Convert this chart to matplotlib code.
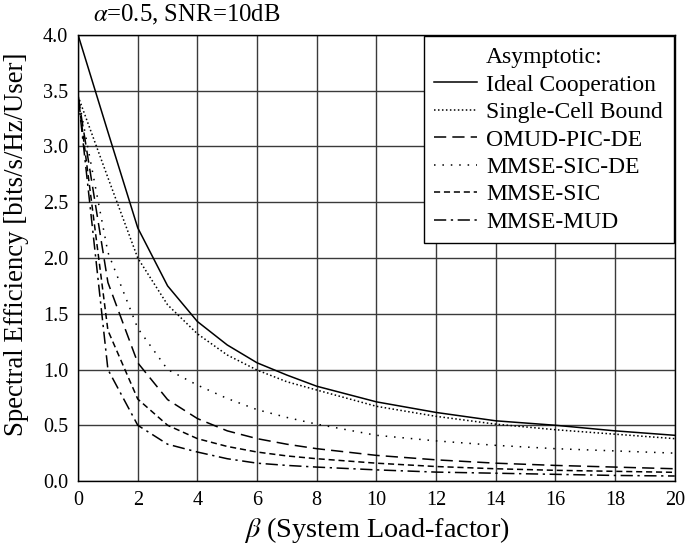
import matplotlib
matplotlib.use("Agg")
import matplotlib.pyplot as plt

plt.rcParams['font.family'] = ['Liberation Serif', 'DejaVu Serif']
plt.rcParams['mathtext.fontset'] = 'stix'

beta = [0, 1, 2, 3, 4, 5, 6, 7, 8, 10, 12, 14, 16, 18, 20]

ideal_coop = [4.0, 3.13, 2.27, 1.75, 1.43, 1.22, 1.06, 0.95, 0.85, 0.71, 0.615, 0.54, 0.50, 0.45, 0.41]
single_cell = [3.45, 2.72, 2.0, 1.58, 1.32, 1.13, 0.995, 0.89, 0.816, 0.67, 0.58, 0.51, 0.46, 0.42, 0.38]
omud_pic_de = [3.45, 1.78, 1.06, 0.73, 0.56, 0.45, 0.38, 0.33, 0.29, 0.23, 0.19, 0.16, 0.14, 0.125, 0.11]
mmse_sic_de = [3.45, 2.05, 1.37, 1.0, 0.86, 0.74, 0.64, 0.57, 0.51, 0.41, 0.36, 0.32, 0.29, 0.27, 0.25]
mmse_sic = [3.45, 1.35, 0.735, 0.50, 0.38, 0.31, 0.26, 0.225, 0.20, 0.16, 0.13, 0.11, 0.096, 0.087, 0.078]
mmse_mud = [3.45, 1.0, 0.50, 0.33, 0.26, 0.20, 0.16, 0.14, 0.125, 0.10, 0.08, 0.07, 0.06, 0.05, 0.045]

x_ticks = [0, 2, 4, 6, 8, 10, 12, 14, 16, 18, 20]
y_ticks = [0.0, 0.5, 1.0, 1.5, 2.0, 2.5, 3.0, 3.5, 4.0]

fig = plt.figure(figsize=(6.85, 5.46), dpi=100)
ax = fig.add_axes([0.114, 0.119, 0.871, 0.817])

lw = 1.1
# dummy entry so the legend heading lines up with the label text
ax.plot([], [], color="none", label="Asymptotic:")
ax.plot(beta, ideal_coop, color="black", lw=lw, ls="-", label="Ideal Cooperation")
ax.plot(beta, single_cell, color="black", lw=lw, ls=(0, (1, 1.6)), label="Single-Cell Bound")
ax.plot(beta, omud_pic_de, color="black", lw=lw, ls=(0, (8, 4)), label="OMUD-PIC-DE")
ax.plot(beta, mmse_sic_de, color="black", lw=lw, ls=(0, (1, 4.5)), label="MMSE-SIC-DE")
ax.plot(beta, mmse_sic, color="black", lw=lw, ls=(0, (4, 2.5)), label="MMSE-SIC")
ax.plot(beta, mmse_mud, color="black", lw=lw, ls=(0, (8, 3, 1.5, 3)), label="MMSE-MUD")

ax.set_xlim(0, 20)
ax.set_ylim(0, 4)
ax.set_xticks(x_ticks)
ax.set_yticks(y_ticks)
ax.set_yticklabels(['{:.1f}'.format(v) for v in y_ticks])
ax.tick_params(length=0, labelsize=14.5, pad=7)
ax.grid(True, color="#3a3a3a", lw=1.0)
for s in ax.spines.values():
    s.set_color("black")
    s.set_linewidth(1.0)

ax.set_xlabel(r"$\beta$ (System Load-factor)", fontsize=20.3, labelpad=4)
ax.set_ylabel("Spectral Efficiency [bits/s/Hz/User]", fontsize=19.3)
ax.yaxis.set_label_coords(-0.083, 0.53)
fig.text(0.136, 0.973, r"$\alpha$=0.5, SNR=10dB", fontsize=17.8, va="center", ha="left")

leg = ax.legend(loc="upper right", fontsize=17,
                fancybox=False, framealpha=1, edgecolor="black", borderaxespad=0.05,
                handlelength=1.8, handletextpad=0.4, labelspacing=0.25, borderpad=0.45)
leg.get_frame().set_linewidth(1.0)

fig.savefig("out.png", dpi=100)
